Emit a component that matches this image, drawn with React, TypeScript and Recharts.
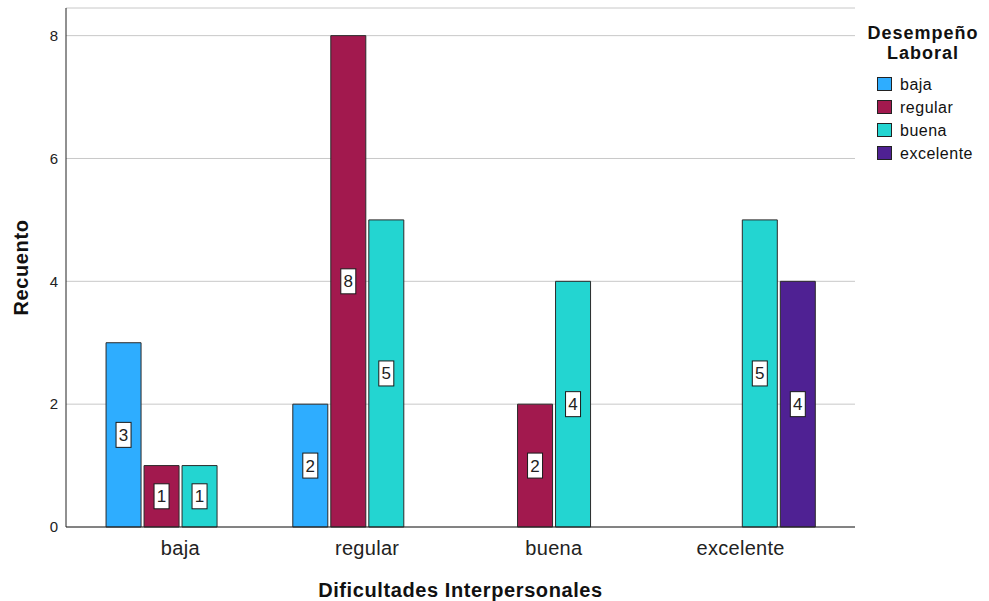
import { BarChart, Bar, XAxis, YAxis, CartesianGrid, LabelList, Legend, Label } from 'recharts'

const categories = ['baja', 'regular', 'buena', 'excelente']
const seriesNames = ['baja', 'regular', 'buena', 'excelente']
const bajaCounts = [3, 2, null, null]
const regularCounts = [1, 8, 2, null]
const buenaCounts = [1, 5, 4, 5]
const excelenteCounts = [null, null, null, 4]
const seriesColors = ['#2EADFF', '#A2194E', '#23D5D1', '#4F2193']
const yTicks = [0, 2, 4, 6, 8]

const FONT = '"Liberation Sans", Arial, sans-serif'

const counts = [bajaCounts, regularCounts, buenaCounts, excelenteCounts]
const data = categories.map((cat, i) => {
  const row: Record<string, string | number | null> = { cat }
  seriesNames.forEach((s, j) => { row[s] = counts[j][i] })
  return row
})

// white boxed count in the middle of each bar, SPSS style
function ValueBox(props: any) {
  const { x, y, width, height, value } = props
  if (value == null) return null
  const cx = Number(x) + Number(width) / 2
  const cy = Number(y) + Number(height) / 2
  return (
    <g>
      <rect x={cx - 7.5} y={cy - 12.5} width={15} height={25} fill="#fff" stroke="#1a1a1a" strokeWidth={1} />
      <text x={cx} y={cy + 6} textAnchor="middle" fontSize={17} fill="#222">{value}</text>
    </g>
  )
}

function YTitle(props: any) {
  const vb = props.viewBox
  const cx = vb.x + 18
  const cy = vb.y + vb.height / 2
  return (
    <text transform={`translate(${cx},${cy}) rotate(-90)`} textAnchor="middle"
      fontSize={20} fontWeight="bold" letterSpacing={0.6} fill="#111">Recuento</text>
  )
}

function LegendBox() {
  return (
    <div style={{ fontFamily: FONT, color: '#111', width: 130 }}>
      <div style={{ fontWeight: 700, fontSize: 18, lineHeight: '20px', textAlign: 'center', letterSpacing: 1 }}>
        Desempeño<br />Laboral
      </div>
      <div style={{ marginTop: 9.5 }}>
        {seriesNames.map((n, i) => (
          <div key={n} style={{ display: 'flex', alignItems: 'center', height: 23, lineHeight: '23px', fontSize: 16, letterSpacing: 0.5 }}>
            <span style={{
              width: 13, height: 12, marginLeft: 19, marginRight: 8,
              background: seriesColors[i], border: '1px solid #222', flex: 'none',
            }} />
            <span>{n}</span>
          </div>
        ))}
      </div>
    </div>
  )
}

export default function App() {
  return (
    <div style={{ position: 'relative', width: 989, height: 601, overflow: 'hidden', background: '#fff', fontFamily: FONT }}>
      <style>{'body{margin:0}'}</style>
      {/* figure title, cut off at the top in the source image */}
      <div style={{
        position: 'absolute', left: 146, top: -34, whiteSpace: 'nowrap',
        fontFamily: '"Liberation Serif", "Times New Roman", serif', fontStyle: 'italic', fontWeight: 700,
        fontSize: 33, lineHeight: '33px', color: '#000',
      }}>
        Gráfico de barras: Dificultades interpersonales y desempeño laboral
      </div>
      <BarChart width={989} height={601} data={data}
        margin={{ top: 8, right: 134, bottom: 44, left: 10 }}
        barCategoryGap="10.2%" barGap={3}>
        <CartesianGrid stroke="#c8c8c8" vertical={false} />
        <XAxis dataKey="cat" padding={{ left: 21, right: 21 }} tickLine={false} tickSize={0} tickMargin={14}
          axisLine={{ stroke: '#222' }} tick={{ fill: '#222', fontSize: 20, letterSpacing: 0.3 }} height={30}>
          <Label value="Dificultades Interpersonales" position="bottom" offset={25.5}
            fontSize={20} fontWeight="bold" letterSpacing={0.6} fill="#111" />
        </XAxis>
        <YAxis domain={[0, 8.45]} ticks={yTicks} width={56} tickLine={false}
          axisLine={{ stroke: '#222' }} tick={{ fill: '#222', fontSize: 15 }}>
          <Label content={YTitle} />
        </YAxis>
        <Legend layout="vertical" align="center" verticalAlign="middle" content={LegendBox}
          wrapperStyle={{ left: 858, top: 23, width: 131 }} />
        {seriesNames.map((s, i) => (
          <Bar key={s} dataKey={s} fill={seriesColors[i]} stroke="#2a2a2a" strokeWidth={1} isAnimationActive={false}>
            <LabelList dataKey={s} content={ValueBox} />
          </Bar>
        ))}
      </BarChart>
    </div>
  )
}
